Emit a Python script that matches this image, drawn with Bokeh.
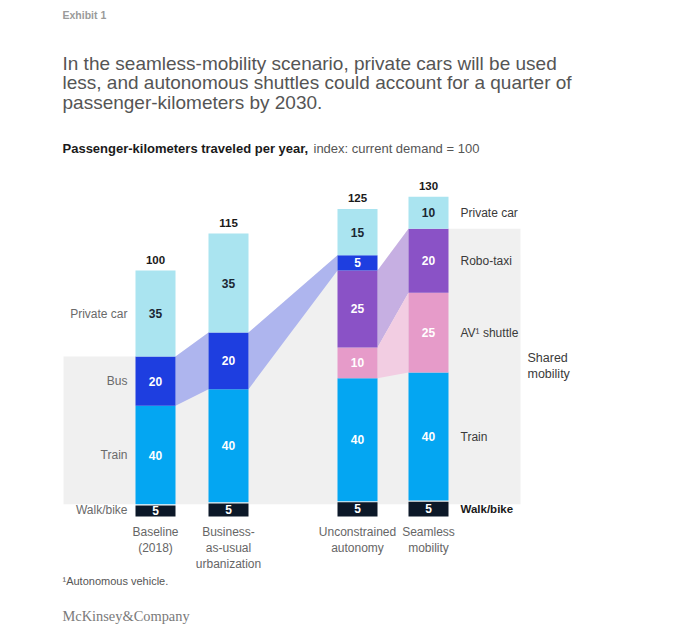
from bokeh.plotting import figure
from bokeh.models import Range1d, Label
from bokeh.embed import file_html
from bokeh.resources import INLINE

# ---------------- data ----------------
scenarios = ["Baseline\n(2018)", "Business-\nas-usual\nurbanization", "Unconstrained\nautonomy", "Seamless\nmobility"]
totals = [100, 115, 125, 130]
# shares (labels) by mode, bottom -> top
walk_bike = [5, 5, 5, 5]
train = [40, 40, 40, 40]
av_shuttle = [0, 0, 10, 25]
robo_taxi = [0, 0, 25, 20]
bus = [20, 20, 5, 0]
private_car = [35, 35, 15, 10]

modes = ["Walk/bike", "Train", "AV¹ shuttle", "Robo-taxi", "Bus", "Private car"]
shares = [walk_bike, train, av_shuttle, robo_taxi, bus, private_car]
colors = ["#0c1828", "#04a6f2", "#e69bc9", "#8a52c6", "#1e3ee0", "#aae4f0"]
text_colors = ["white", "white", "white", "white", "white", "#1b2733"]

# ---------------- layout ----------------
W, H = 680, 639
Y0 = 516.0      # pixel of value 0
PX = 2.46       # pixels per unit
bar_x = [155, 228, 357, 428]
bw = 40
FONT = "Liberation Sans"

p = figure(width=W, height=H, output_backend="svg", toolbar_location=None,
           x_range=Range1d(0, W), y_range=Range1d((Y0 - H) / PX, Y0 / PX),
           min_border=0)
p.axis.visible = False
p.xgrid.visible = False
p.ygrid.visible = False
p.outline_line_color = None
p.background_fill_color = "white"
p.border_fill_color = "white"

# stacked values (scaled to totals)
n = len(totals)
bottoms = []
tops = []
for i in range(n):
    b = 0.0
    bs, ts = [], []
    for m in range(len(modes)):
        h = shares[m][i] * totals[i] / 100.0
        bs.append(b)
        ts.append(b + h)
        b += h
    bottoms.append(bs)
    tops.append(ts)

def seg(i, m):
    return bottoms[i][m], tops[i][m]

WALK, TRAIN, AV, ROBO, BUS, CAR = range(6)

# shared mobility grey region
def shared_top(i):
    return tops[i][BUS]

gx = [63, bar_x[0] + bw / 2, bar_x[1] - bw / 2, bar_x[1] + bw / 2, bar_x[2] - bw / 2,
      bar_x[2] + bw / 2, bar_x[3] - bw / 2, 520, 520, 63]
gy = [shared_top(0), shared_top(0), shared_top(1), shared_top(1), shared_top(2),
      tops[2][ROBO], tops[3][ROBO], tops[3][ROBO], tops[0][WALK], tops[0][WALK]]
p.patch(gx, gy, fill_color="#f0f0f0", line_color=None)

# connecting bands
def band(i, j, m_from, m_to, color):
    b0, t0 = seg(i, m_from)
    b1, t1 = seg(j, m_to)
    xr = bar_x[i] + bw / 2
    xl = bar_x[j] - bw / 2
    p.patch([xr, xl, xl, xr], [b0, b1, t1, t0], fill_color=color, line_color=None)

band(0, 1, BUS, BUS, "#aeb5ee")
band(1, 2, BUS, BUS, "#aeb5ee")
band(2, 3, ROBO, ROBO, "#c6afe2")
band(2, 3, AV, AV, "#f2cde2")

# bars
for m in range(len(modes)):
    xs, bs, ts = [], [], []
    for i in range(n):
        if shares[m][i] > 0:
            xs.append(bar_x[i])
            bs.append(bottoms[i][m])
            ts.append(tops[i][m] - (0.5 if m == WALK else 0))
    p.vbar(x=xs, bottom=bs, top=ts, width=bw, fill_color=colors[m], line_color=None)

# segment labels
for m in range(len(modes)):
    for i in range(n):
        if shares[m][i] > 0:
            p.add_layout(Label(x=bar_x[i], y=(bottoms[i][m] + tops[i][m]) / 2, text=str(shares[m][i]),
                               text_align="center", text_baseline="middle", text_font=FONT,
                               text_font_size="12px", text_font_style="bold",
                               text_color=text_colors[m]))

# totals
for i in range(n):
    p.add_layout(Label(x=bar_x[i], y=totals[i], y_offset=7, text=str(totals[i]),
                       text_align="center", text_baseline="bottom", text_font=FONT,
                       text_font_size="11.5px", text_font_style="bold", text_color="#1a1a1a"))

# category labels
for i in range(n):
    p.add_layout(Label(x=bar_x[i], y=(Y0 - 524) / PX, text=scenarios[i], text_align="center",
                       text_baseline="top", text_font=FONT, text_font_size="12px",
                       text_color="#666666", text_line_height=1.15))

# left labels (baseline bar)
for m, name in [(CAR, "Private car"), (BUS, "Bus"), (TRAIN, "Train"), (WALK, "Walk/bike")]:
    p.add_layout(Label(x=127, y=(bottoms[0][m] + tops[0][m]) / 2, text=name, text_align="right",
                       text_baseline="middle", text_font=FONT, text_font_size="12px",
                       text_color="#6a6a6a"))

# right labels (seamless bar)
for m, name in [(CAR, "Private car"), (ROBO, "Robo-taxi"), (AV, "AV¹ shuttle"), (TRAIN, "Train")]:
    p.add_layout(Label(x=460, y=(bottoms[3][m] + tops[3][m]) / 2, text=name, text_align="left",
                       text_baseline="middle", text_font=FONT, text_font_size="12px",
                       text_color="#3a3a3a"))
p.add_layout(Label(x=460, y=(bottoms[3][WALK] + tops[3][WALK]) / 2, text="Walk/bike", text_align="left",
                   text_baseline="middle", text_font=FONT, text_font_size="11.5px",
                   text_font_style="bold", text_color="#1a1a1a"))
p.add_layout(Label(x=527, y=(tops[0][WALK] + tops[3][ROBO]) / 2, text="Shared\nmobility",
                   text_align="left", text_baseline="middle", text_font=FONT,
                   text_font_size="12.5px", text_color="#3a3a3a", text_line_height=1.15))

# header / footer texts (screen units, y from bottom)
def slabel(x, ypix, text, size, color, style="normal", font=FONT):
    p.add_layout(Label(x=x, y=H - ypix, x_units="screen", y_units="screen", text=text,
                       text_align="left", text_baseline="middle", text_font=font,
                       text_font_size=size, text_color=color, text_font_style=style))

slabel(62, 14, "Exhibit 1", "10.5px", "#9a9a9a", "bold")
slabel(62, 63, "In the seamless-mobility scenario, private cars will be used", "19px", "#555555")
slabel(62, 82, "less, and autonomous shuttles could account for a quarter of", "19px", "#555555")
slabel(62, 102, "passenger-kilometers by 2030.", "19px", "#555555")
slabel(62, 148, "Passenger-kilometers traveled per year,", "13px", "#1a1a1a", "bold")
slabel(313, 148, "index: current demand = 100", "13px", "#555555")
slabel(62, 580, "¹Autonomous vehicle.", "11px", "#555555")
slabel(62, 615, "McKinsey&Company", "14.4px", "#7a7a7a", "normal", "Liberation Serif")

open("out.html", "w").write(file_html(p, INLINE))
